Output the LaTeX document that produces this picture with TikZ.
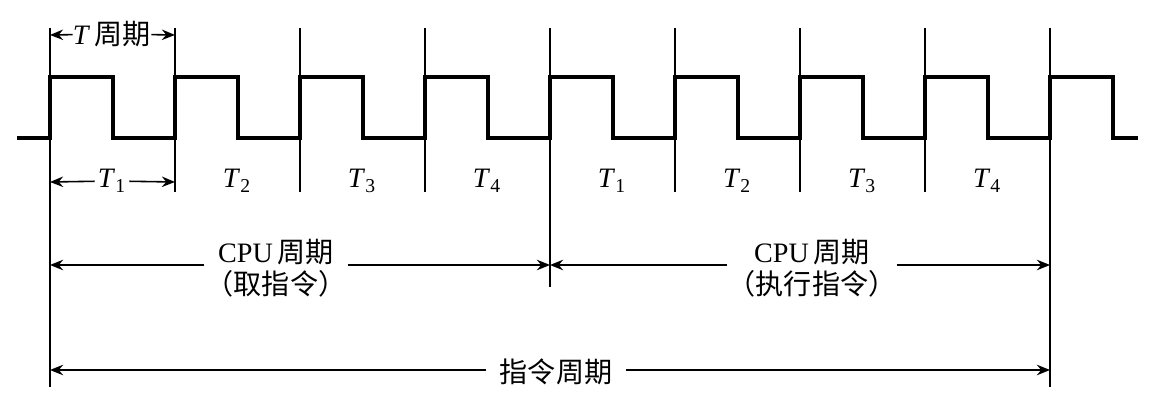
\documentclass[tikz,border=0pt]{standalone}
\usepackage{fontspec}
\setmainfont{Liberation Serif}
\newfontfamily\cjk{Noto Sans CJK SC}
\usetikzlibrary{arrows.meta}
\tikzset{wave/.style={draw=black,line width=2.1pt,line join=miter},
 tick/.style={draw=black,line width=0.9pt},
 dim/.style={draw=black,line width=0.9pt,-{Stealth[length=7.5pt,width=6pt,inset=2.5pt]}},
 lab/.style={inner sep=0pt,font=\fontsize{16pt}{19pt}\selectfont},
 every picture/.style={line cap=butt}}

\begin{document}
\begin{tikzpicture}[x=0.02cm,y=-0.02cm]
\useasboundingbox (0,0) rectangle (1157,412);
% clock wave
\draw[wave] (17,138) foreach \i in {0,...,8} {-- ({50+125*\i},138) -- ({50+125*\i},77) -- ({113+125*\i},77) -- ({113+125*\i},138)} -- (1138,138);
% period marks
\foreach \i in {0,...,8} \coordinate (top\i) at ({50+125*\i},28);
\foreach \i in {1,2,3,5,6,7} \coordinate (bot\i) at ({50+125*\i},192);
\coordinate (bot0) at (50,387);
\coordinate (bot4) at (550,287);
\coordinate (bot8) at (1050,387);
\foreach \i in {0,...,8} \draw[tick] (top\i) -- (bot\i);
% T period
\coordinate (pl) at (50,35);
\coordinate (pr) at (175,35);
\node[lab] (tcyc) at (112,34) {\textit{T}\,{\cjk 周期}};
\draw[dim] (tcyc) -- (pl);
\draw[dim] (tcyc) -- (pr);
% T1..T4
\coordinate (sl) at (50,182);
\coordinate (sr) at (175,182);
\node[lab,inner xsep=0.06cm] (s1) at (112,181) {\textit{T}\textsubscript{1}};
\draw[dim] (s1) -- (sl);
\draw[dim] (s1) -- (sr);
\foreach \i/\t in {2/2,3/3,4/4,5/1,6/2,7/3,8/4}
  \node[lab] (s\i) at ({112+125*(\i-1)},181) {\textit{T}\textsubscript{\t}};
% CPU cycles
\coordinate (la) at (50,265);
\coordinate (ma) at (550,265);
\coordinate (ra) at (1050,265);
\node[lab,align=center,inner xsep=0.02cm] (fetch) at (276,268) {CPU\,{\cjk 周期}\\[-1pt]{\cjk （取指令）}};
\node[lab,align=center,inner xsep=0pt] (exec) at (812,268) {CPU\,{\cjk 周期}\\[-1pt]{\cjk （执行指令）}};
\draw[dim] (fetch.west |- la) -- (la);
\draw[dim] (fetch.east |- ma) -- (ma);
\draw[dim] (exec.west |- ma) -- (ma);
\draw[dim] (exec.east |- ra) -- (ra);
% instruction cycle
\coordinate (lb) at (50,370);
\coordinate (rb) at (1050,370);
\node[lab,inner xsep=0.26cm] (instr) at (556,372) {{\cjk 指令周期}};
\draw[dim] (instr.west |- lb) -- (lb);
\draw[dim] (instr.east |- rb) -- (rb);
\end{tikzpicture}
\end{document}
